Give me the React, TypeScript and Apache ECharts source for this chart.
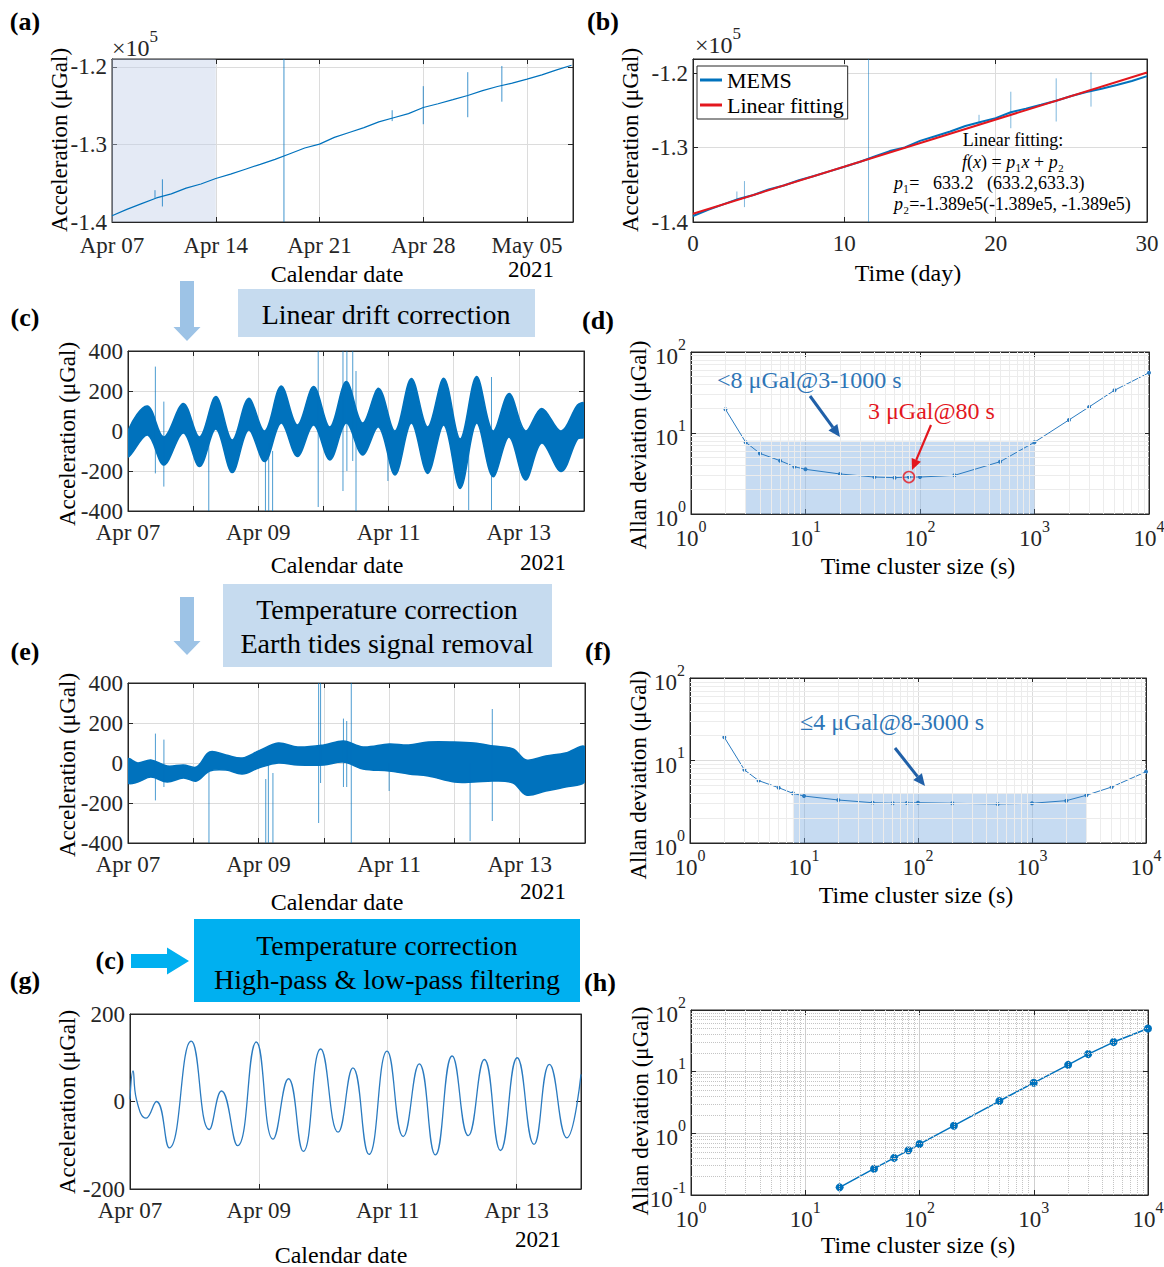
import React, { useEffect, useRef } from 'react';
import * as echarts from 'echarts';

const FONT = '"Liberation Serif", "Times New Roman", Times, serif';
const AXC = '#262626';
const GRIDC = '#dcdcdc';
const BLUE = '#0072BD';
const ABLUE = '#2b7bc0';
const RED = '#e3171e';
const W = 1164;
const H = 1267;

// ---------- (a)/(b) raw MEMS record (days after Apr 07, µGal) ----------
const memsDays = [0, 1, 2, 3, 4, 5, 6, 7, 8, 9, 10, 11, 12, 13, 14, 15, 16, 17, 18, 19, 20, 21, 22, 23, 24, 25, 26, 27, 28, 29, 30, 31];
const memsValues = [-139200, -138370, -137630, -136900, -136370, -135630, -135100, -134400, -133830, -133200, -132570, -131930, -131200, -130470, -129970, -129100, -128470, -127840, -127100, -126570, -126040, -125250, -124770, -124240, -123700, -123070, -122540, -122100, -121600, -121050, -120400, -119800];
// [day, low, high]
const memsSpikes = [
  [2.9, -136900, -135900],
  [3.4, -138000, -134500],
  [11.6, -140000, -118000],
  [18.9, -127000, -125600],
  [21.0, -127400, -122500],
  [24.0, -126500, -120700],
  [26.3, -124500, -119900],
];
const fitDays = [0, 30];
const fitValues = [-138900, -119904];
const monthTicks = ['Apr 07', 'Apr 14', 'Apr 21', 'Apr 28', 'May 05'];
const weekTicks = ['Apr 07', '', 'Apr 09', '', 'Apr 11', '', 'Apr 13', ''];

// ---------- (c) after linear drift correction: noise band envelope ----------
const cDays = [0, 0.30, 0.55, 0.85, 1.10, 1.35, 1.60, 1.85, 2.10, 2.35, 2.60, 2.85, 3.10, 3.35, 3.60, 3.85, 4.10, 4.35, 4.60, 4.85, 5.10, 5.35, 5.60, 5.85, 6.10, 6.35, 6.65, 6.90, 7.00];
const cUpper = [0, 125, -30, 138, -30, 172, -45, 163, 0, 225, 30, 222, 20, 247, 40, 213, 0, 263, 20, 263, -40, 272, 0, 188, 0, 113, 0, 130, 138];
const cLower = [-130, -20, -170, -10, -178, 10, -208, 5, -153, 40, -128, 30, -145, 40, -120, 20, -220, 40, -212, 30, -287, 40, -228, -30, -245, -60, -203, -40, -30];
const cSpikes = [
  [0.42, -212, 322], [0.55, -278, 147], [1.24, -400, 0], [2.11, -400, -100], [2.16, -400, -60],
  [2.22, -400, -100], [2.92, -380, 400], [3.30, -300, 400], [3.36, -200, 400], [3.45, -150, 400],
  [3.50, -400, 300], [3.99, -250, 0], [5.23, -395, -28], [5.58, -395, 270],
];

// ---------- (e) after temperature correction & tide removal ----------
const eDays = [0, 0.15, 0.35, 0.60, 0.85, 1.05, 1.25, 1.50, 1.75, 2.00, 2.30, 2.60, 3.00, 3.30, 3.60, 4.00, 4.30, 4.60, 5.00, 5.30, 5.60, 5.90, 6.10, 6.40, 6.70, 7.00];
const eUpper = [20, 0, 15, -15, -10, -20, 55, 40, 25, 60, 100, 80, 90, 110, 80, 95, 90, 105, 105, 100, 85, 70, 15, 35, 50, 80];
const eLower = [-100, -95, -70, -95, -75, -90, -40, -35, -55, -25, 0, -10, -10, 5, -30, -40, -55, -65, -95, -95, -90, -100, -160, -140, -120, -90];
const eSpikes = [
  [0.42, -187, 147], [0.55, -120, 117], [1.24, -400, -20], [2.11, -400, -80], [2.15, -400, 0],
  [2.22, -400, -50], [2.92, -300, 400], [2.95, -100, 400], [3.30, -120, 222], [3.35, -120, 210],
  [3.42, -400, 400], [4.00, -140, 0], [5.24, -390, 0], [5.58, -290, 270],
];

// ---------- (g) filtered signal ----------
const gDays = [0, 0.047, 0.10, 0.25, 0.41, 0.61, 0.95, 1.23, 1.42, 1.67, 1.96, 2.22, 2.46, 2.69, 2.96, 3.23, 3.46, 3.71, 3.99, 4.24, 4.49, 4.74, 5.00, 5.25, 5.50, 5.75, 6.01, 6.27, 6.51, 6.78, 7.00];
const gValues = [5, 70, 5, -38, 0, -106, 138, -64, 24, -101, 136, -86, 52, -114, 120, -70, 77, -121, 115, -80, 86, -122, 104, -78, 96, -112, 100, -98, 85, -83, 62];

// ---------- Allan deviations ----------
const tauDF = [2, 3, 4, 6, 8, 10, 20, 40, 60, 80, 100, 200, 500, 1000, 2000, 3000, 5000, 10000];
const adevD = [19.6, 7.7, 5.6, 4.55, 3.84, 3.56, 3.12, 2.86, 2.81, 2.86, 2.86, 3.0, 4.42, 7.7, 14.5, 21, 33.7, 55.5];
const adevF = [19.1, 7.7, 5.7, 4.68, 4.0, 3.71, 3.32, 3.08, 3.03, 3.05, 3.08, 3.03, 2.97, 3.03, 3.26, 3.79, 4.77, 7.3];
const tauH = [20, 40, 60, 80, 100, 200, 500, 1000, 2000, 3000, 5000, 10000];
const adevH = [0.133, 0.267, 0.40, 0.53, 0.67, 1.33, 3.34, 6.6, 12.9, 19.3, 30.2, 50];
const dHighlight = { from: 3, to: 1000, level: 8 };
const fHighlight = { from: 8, to: 3000, level: 4 };
const dMinimum = [80, 2.86];

// ---------- layout ----------
const GRIDS = [
  { left: 112, top: 59, width: 461, height: 163 },
  { left: 693, top: 59, width: 454, height: 163 },
  { left: 128, top: 351, width: 456, height: 160 },
  { left: 691, top: 352, width: 458, height: 162 },
  { left: 128, top: 683, width: 457, height: 160 },
  { left: 690, top: 678, width: 456, height: 165 },
  { left: 130, top: 1014, width: 451, height: 175 },
  { left: 691, top: 1010, width: 457, height: 185 },
];
const TICK_FS = 23;

const logRich = {
  b: { fontFamily: FONT, fontSize: TICK_FS, color: AXC, padding: [9, 0, 0, 0], verticalAlign: 'bottom' },
  s: { fontFamily: FONT, fontSize: 16, color: AXC, verticalAlign: 'top' },
};
const logFmt = (v: number) => `{b|10}{s|${Math.round(Math.log10(v))}}`;
const onStep = (step: number, fn: (v: number, k: number) => string) => (v: number) => {
  const k = Math.round(v / step);
  return Math.abs(v - k * step) < Math.abs(step) * 1e-6 ? fn(v, k) : '';
};

function axisPair(gi: number, dim: 'x' | 'y', o: any) {
  const base: any = {
    gridIndex: gi,
    type: o.type || 'value',
    min: o.min,
    max: o.max,
    scale: true,
    axisLine: { show: true, onZero: false, lineStyle: { color: AXC, width: 1 } },
    axisTick: { show: true, inside: true, length: 5, lineStyle: { color: AXC, width: 1 } },
    minorTick: { show: false },
    minorSplitLine: { show: false },
    splitArea: { show: false },
  };
  if (o.interval !== undefined) base.interval = o.interval;
  if (o.type === 'log') base.logBase = 10;
  const main = {
    ...base,
    position: dim === 'x' ? 'bottom' : 'left',
    axisLabel: {
      show: true, color: AXC, fontFamily: FONT, fontSize: TICK_FS,
      margin: o.margin ?? (dim === 'x' ? 10 : 5),
      formatter: o.formatter, rich: o.rich, showMinLabel: true, showMaxLabel: true,
    },
    splitLine: { show: o.grid !== false, lineStyle: { color: o.gridColor || GRIDC, width: 1, type: o.gridType || 'solid' } },
  };
  const mirror = { ...base, position: dim === 'x' ? 'top' : 'right', axisLabel: { show: false }, splitLine: { show: false } };
  return [main, mirror];
}

function spikeSeries(gi: number, spikes: number[][], color: string, width: number) {
  return {
    type: 'custom', xAxisIndex: 2 * gi, yAxisIndex: 2 * gi, clip: true, silent: true, z: 3,
    data: spikes, encode: { x: 0, y: [1, 2] },
    renderItem: (_p: any, api: any) => {
      const a = api.coord([api.value(0), api.value(1)]);
      const b = api.coord([api.value(0), api.value(2)]);
      return { type: 'line', shape: { x1: a[0], y1: a[1], x2: b[0], y2: b[1] }, style: { stroke: color, lineWidth: width } };
    },
  };
}

// noise band drawn as one polygon between the upper and lower envelopes
function bandSeries(gi: number, days: number[], upper: number[], lower: number[], color: string) {
  return {
    type: 'custom', xAxisIndex: 2 * gi, yAxisIndex: 2 * gi, clip: true, silent: true, z: 2,
    data: days.map((d, i) => [d, upper[i], lower[i]]),
    encode: { x: 0, y: [1, 2] },
    renderItem: (params: any, api: any) => {
      if (params.dataIndex !== 0) return { type: 'group', children: [] };
      const top = days.map((d, i) => api.coord([d, upper[i]]));
      const bot = days.map((d, i) => api.coord([d, lower[i]])).reverse();
      return { type: 'polygon', shape: { points: [...top, ...bot], smooth: 0.35 }, style: { fill: color, stroke: color, lineWidth: 1.5, lineJoin: 'round' } };
    },
  };
}

const minorVals = (decades: number[]) => decades.flatMap((d) => [2, 3, 4, 5, 6, 7, 8, 9].map((m) => +(m * d).toPrecision(3)));

function minorGrid(xs: number[], ys: number[], color: string, type: string) {
  return {
    silent: true, symbol: ['none', 'none'], label: { show: false }, animation: false,
    lineStyle: { color, width: 1, type },
    emphasis: { disabled: true },
    data: [...xs.map((v) => ({ xAxis: v })), ...ys.map((v) => ({ yAxis: v }))],
  };
}

// graphic helpers
function T(text: string, x: number, y: number, o: any = {}) {
  return {
    type: 'text', x, y, rotation: o.rot || 0, z: 100, silent: true,
    style: {
      text, fill: o.color || '#000', fontFamily: FONT, fontSize: o.size || 24,
      fontWeight: o.weight || 'normal', fontStyle: o.style || 'normal',
      align: o.align || 'center', textAlign: o.align || 'center',
      verticalAlign: o.va || 'middle', textVerticalAlign: o.va || 'middle',
      rich: o.rich,
    },
  };
}
function arrow(x1: number, y1: number, x2: number, y2: number, color: string, w: number, hl: number, hw: number) {
  const ang = Math.atan2(y2 - y1, x2 - x1);
  const bx = x2 - hl * Math.cos(ang);
  const by = y2 - hl * Math.sin(ang);
  const px = (-Math.sin(ang) * hw) / 2;
  const py = (Math.cos(ang) * hw) / 2;
  return [
    { type: 'line', z: 100, silent: true, shape: { x1, y1, x2: bx, y2: by }, style: { stroke: color, lineWidth: w } },
    { type: 'polygon', z: 100, silent: true, shape: { points: [[x2, y2], [bx + px, by + py], [bx - px, by - py]] }, style: { fill: color } },
  ];
}
function blockDown(cx: number, y0: number, yh: number, yt: number, sw: number, hw: number, color: string) {
  return {
    type: 'polygon', z: 100, silent: true,
    shape: { points: [[cx - sw / 2, y0], [cx + sw / 2, y0], [cx + sw / 2, yh], [cx + hw / 2, yh], [cx, yt], [cx - hw / 2, yh], [cx - sw / 2, yh]] },
    style: { fill: color },
  };
}
function blockRight(x0: number, xh: number, xt: number, cy: number, sw: number, hw: number, color: string) {
  return {
    type: 'polygon', z: 100, silent: true,
    shape: { points: [[x0, cy - sw / 2], [xh, cy - sw / 2], [xh, cy - hw / 2], [xt, cy], [xh, cy + hw / 2], [xh, cy + sw / 2], [x0, cy + sw / 2]] },
    style: { fill: color },
  };
}
function rect(x: number, y: number, w: number, h: number, fill: string) {
  return { type: 'rect', z: 90, silent: true, shape: { x, y, width: w, height: h }, style: { fill } };
}

function buildOption() {
  const yE5 = onStep(10000, (v) => (v / 1e5).toFixed(1));
  const xAxes: any[] = [];
  const yAxes: any[] = [];
  const add = (gi: number, xo: any, yo: any) => {
    xAxes.push(...axisPair(gi, 'x', xo));
    yAxes.push(...axisPair(gi, 'y', yo));
  };
  add(0, { min: 0, max: 31.1, interval: 7, margin: 12, formatter: onStep(7, (_v, k) => monthTicks[k] ?? '') }, { min: -140000, max: -119000, interval: 10000, formatter: yE5 });
  add(1, { min: 0, max: 30, interval: 10, formatter: onStep(10, (v) => String(v)) }, { min: -140000, max: -118100, interval: 10000, formatter: yE5 });
  add(2, { min: 0, max: 7, interval: 1, formatter: onStep(1, (_v, k) => weekTicks[k] ?? '') }, { min: -400, max: 400, interval: 200, formatter: onStep(200, (v) => String(v)) });
  add(3, { type: 'log', min: 1, max: 10000, formatter: logFmt, rich: logRich, margin: 4 }, { type: 'log', min: 1, max: 100, formatter: logFmt, rich: logRich });
  add(4, { min: 0, max: 7, interval: 1, formatter: onStep(1, (_v, k) => weekTicks[k] ?? '') }, { min: -400, max: 400, interval: 200, formatter: onStep(200, (v) => String(v)) });
  add(5, { type: 'log', min: 1, max: 10000, formatter: logFmt, rich: logRich, margin: 4 }, { type: 'log', min: 1, max: 100, formatter: logFmt, rich: logRich });
  add(6, { min: 0, max: 7, interval: 2, formatter: onStep(1, (_v, k) => weekTicks[k] ?? '') }, { min: -200, max: 200, interval: 200, formatter: onStep(200, (v) => String(v)) });
  add(7, { type: 'log', min: 1, max: 10000, formatter: logFmt, rich: logRich, margin: 4, gridColor: '#cfcfcf' }, { type: 'log', min: 0.1, max: 100, formatter: logFmt, rich: logRich, gridColor: '#cfcfcf' });

  const mems = memsDays.map((d, i) => [d, memsValues[i]]);
  const series: any[] = [
    // (a)
    {
      name: 'MEMS (a)', type: 'line', xAxisIndex: 0, yAxisIndex: 0, data: mems, showSymbol: false, symbol: 'none',
      lineStyle: { color: BLUE, width: 1.2 }, itemStyle: { color: BLUE }, silent: true, z: 3,
      markArea: { silent: true, itemStyle: { color: 'rgba(190,204,232,0.42)' }, data: [[{ xAxis: 0 }, { xAxis: 7 }]] },
    },
    spikeSeries(0, memsSpikes, 'rgba(0,114,189,0.75)', 1),
    // (b)
    {
      name: 'MEMS', type: 'line', xAxisIndex: 2, yAxisIndex: 2, data: mems.filter((p) => p[0] <= 30), showSymbol: false, symbol: 'none',
      lineStyle: { color: BLUE, width: 2 }, itemStyle: { color: BLUE }, silent: true, z: 3,
    },
    spikeSeries(1, memsSpikes, 'rgba(0,114,189,0.5)', 1),
    {
      name: 'Linear fitting', type: 'line', xAxisIndex: 2, yAxisIndex: 2, data: fitDays.map((d, i) => [d, fitValues[i]]), showSymbol: false, symbol: 'none',
      lineStyle: { color: RED, width: 2 }, itemStyle: { color: RED }, silent: true, z: 4,
    },
    // (c)
    bandSeries(2, cDays, cUpper, cLower, BLUE),
    spikeSeries(2, cSpikes, 'rgba(0,114,189,0.7)', 1),
    // (d)
    {
      type: 'line', xAxisIndex: 6, yAxisIndex: 6, data: tauDF.map((t, i) => [t, adevD[i]]), symbol: 'circle', symbolSize: 4, showSymbol: true,
      lineStyle: { color: ABLUE, width: 1 }, itemStyle: { color: ABLUE }, silent: true, z: 3,
      markArea: { silent: true, itemStyle: { color: 'rgba(120,170,225,0.42)' }, data: [[{ xAxis: dHighlight.from, yAxis: 1 }, { xAxis: dHighlight.to, yAxis: dHighlight.level }]] },
      markLine: minorGrid(minorVals([1, 10, 100, 1000]), minorVals([1, 10]), '#ececec', 'solid'),
    },
    {
      type: 'scatter', xAxisIndex: 6, yAxisIndex: 6, data: [dMinimum], symbol: 'circle', symbolSize: 11,
      itemStyle: { color: 'rgba(0,0,0,0)', borderColor: RED, borderWidth: 1.6 }, silent: true, z: 5,
    },
    // (e)
    bandSeries(4, eDays, eUpper, eLower, BLUE),
    spikeSeries(4, eSpikes, 'rgba(0,114,189,0.7)', 1),
    // (f)
    {
      type: 'line', xAxisIndex: 10, yAxisIndex: 10, data: tauDF.map((t, i) => [t, adevF[i]]), symbol: 'circle', symbolSize: 4, showSymbol: true,
      lineStyle: { color: ABLUE, width: 1 }, itemStyle: { color: ABLUE }, silent: true, z: 3,
      markArea: { silent: true, itemStyle: { color: 'rgba(120,170,225,0.42)' }, data: [[{ xAxis: fHighlight.from, yAxis: 1 }, { xAxis: fHighlight.to, yAxis: fHighlight.level }]] },
      markLine: minorGrid(minorVals([1, 10, 100, 1000]), minorVals([1, 10]), '#ececec', 'solid'),
    },
    // (g)
    {
      type: 'line', xAxisIndex: 12, yAxisIndex: 12, data: gDays.map((d, i) => [d, gValues[i]]), smooth: 0.5, showSymbol: false, symbol: 'none',
      lineStyle: { color: ABLUE, width: 1.3 }, silent: true, z: 3,
    },
    // (h)
    {
      type: 'line', xAxisIndex: 14, yAxisIndex: 14, data: tauH.map((t, i) => [t, adevH[i]]), symbol: 'circle', symbolSize: 8, showSymbol: true,
      lineStyle: { color: BLUE, width: 1.5 }, itemStyle: { color: BLUE }, silent: true, z: 3,
      markLine: minorGrid(minorVals([1, 10, 100, 1000]), minorVals([0.1, 1, 10]), '#c4c4c4', 'dotted'),
    },
  ];

  const rot = Math.PI / 2;
  const sup = {
    a: { fontFamily: FONT, fontSize: 24, fill: AXC, color: AXC, padding: [8, 0, 0, 0], verticalAlign: 'bottom' },
    b: { fontFamily: FONT, fontSize: 17, fill: AXC, color: AXC, verticalAlign: 'top' },
  };
  const it = { i: { fontFamily: FONT, fontSize: 18, fontStyle: 'italic', fill: '#000', color: '#000' }, n: { fontFamily: FONT, fontSize: 18, fill: '#000', color: '#000' } };
  const YT = 23;
  const BOXFS = 28;

  const graphic: any[] = [
    // panel labels
    T('(a)', 25, 21, { weight: 'bold', size: 26 }), T('(b)', 603, 21, { weight: 'bold', size: 26 }),
    T('(c)', 25, 317, { weight: 'bold', size: 26 }), T('(d)', 598, 320, { weight: 'bold', size: 26 }),
    T('(e)', 25, 651, { weight: 'bold', size: 26 }), T('(f)', 598, 651, { weight: 'bold', size: 26 }),
    T('(g)', 25, 980, { weight: 'bold', size: 26 }), T('(h)', 600, 982, { weight: 'bold', size: 26 }),
    // y titles
    T('Acceleration (μGal)', 59, 140, { rot, size: YT }), T('Acceleration (μGal)', 630, 140, { rot, size: YT }),
    T('Acceleration (μGal)', 67, 434, { rot, size: YT }), T('Allan deviation (μGal)', 638, 445, { rot, size: YT }),
    T('Acceleration (μGal)', 67, 765, { rot, size: YT }), T('Allan deviation (μGal)', 638, 775, { rot, size: YT }),
    T('Acceleration (μGal)', 67, 1102, { rot, size: YT }), T('Allan deviation (μGal)', 640, 1111, { rot, size: YT }),
    // x titles
    T('Calendar date', 337, 274), T('Time (day)', 908, 273),
    T('Calendar date', 337, 565), T('Time cluster size (s)', 918, 566),
    T('Calendar date', 337, 902), T('Time cluster size (s)', 916, 895),
    T('Calendar date', 341, 1255), T('Time cluster size (s)', 918, 1245),
    // year stamps
    T('2021', 531, 269, { size: 23 }), T('2021', 543, 562, { size: 23 }),
    T('2021', 543, 891, { size: 23 }), T('2021', 538, 1239, { size: 23 }),
    // exponent labels
    T('{a|×10}{b|5}', 112, 44, { align: 'left', rich: sup }),
    T('{a|×10}{b|5}', 695, 41, { align: 'left', rich: sup }),
    // (b) fit annotation
    T('Linear fitting:', 1013, 140, { size: 18 }),
    T('{i|f}{n|(}{i|x}{n|) = }{i|p}{n|₁}{i|x}{n| + }{i|p}{n|₂}', 1013, 162, { size: 18, rich: it }),
    T('{i|p}{n|₁=   633.2   (633.2,633.3)}', 894, 183, { size: 18, align: 'left', rich: it }),
    T('{i|p}{n|₂=-1.389e5(-1.389e5, -1.389e5)}', 894, 204, { size: 18, align: 'left', rich: it }),
    // process boxes
    rect(238, 289, 297, 48, '#c6dbef'),
    T('Linear drift correction', 386, 314, { size: BOXFS }),
    rect(223, 584, 329, 83, '#c6dbef'),
    T('Temperature correction', 387, 609, { size: BOXFS }),
    T('Earth tides signal removal', 387, 643, { size: BOXFS }),
    rect(194, 919, 386, 83, '#00b0f0'),
    T('Temperature correction', 387, 945, { size: BOXFS }),
    T('High-pass & low-pass filtering', 387, 979, { size: BOXFS }),
    // process arrows
    blockDown(187, 281, 327, 341, 14, 27, '#9dc3e6'),
    blockDown(187, 597, 641, 655, 14, 27, '#9dc3e6'),
    T('(c)', 110, 960, { weight: 'bold', size: 26 }),
    blockRight(131, 167, 189, 961, 14, 27, '#00b0f0'),
    // annotations (d)
    T('<8 μGal@3-1000 s', 717, 380, { size: 24, align: 'left', color: '#2e75b6' }),
    ...arrow(810, 396, 840, 437, '#2060a8', 3, 12, 11),
    T('3 μGal@80 s', 868, 411, { size: 24, align: 'left', color: RED }),
    ...arrow(931, 425, 912, 470, RED, 2.2, 11, 10),
    // annotations (f)
    T('≤4 μGal@8-3000 s', 800, 722, { size: 24, align: 'left', color: '#2e75b6' }),
    ...arrow(895, 748, 925, 786, '#2060a8', 3, 12, 11),
  ];

  return {
    animation: false,
    backgroundColor: '#ffffff',
    textStyle: { fontFamily: FONT },
    grid: GRIDS.map((g) => ({ ...g, show: true, borderColor: AXC, borderWidth: 1, backgroundColor: 'transparent', containLabel: false, outerBoundsMode: 'none' })),
    xAxis: xAxes,
    yAxis: yAxes,
    legend: {
      data: ['MEMS', 'Linear fitting'], left: 697, top: 66, orient: 'vertical', icon: 'rect', itemWidth: 22, itemHeight: 3,
      itemGap: 3, padding: [3, 4, 3, 3], borderColor: AXC, borderWidth: 1, backgroundColor: '#fff', selectedMode: false,
      textStyle: { fontFamily: FONT, fontSize: 22, color: '#000' }, z: 10,
    },
    series,
    graphic: { elements: graphic },
  };
}

export default function App() {
  const ref = useRef<HTMLDivElement>(null);
  useEffect(() => {
    const chart = echarts.init(ref.current as HTMLDivElement, null, { renderer: 'svg', width: W, height: H });
    chart.setOption(buildOption() as any);
    return () => chart.dispose();
  }, []);
  return <div ref={ref} style={{ position: 'absolute', left: 0, top: 0, width: W, height: H, background: '#fff' }} />;
}
